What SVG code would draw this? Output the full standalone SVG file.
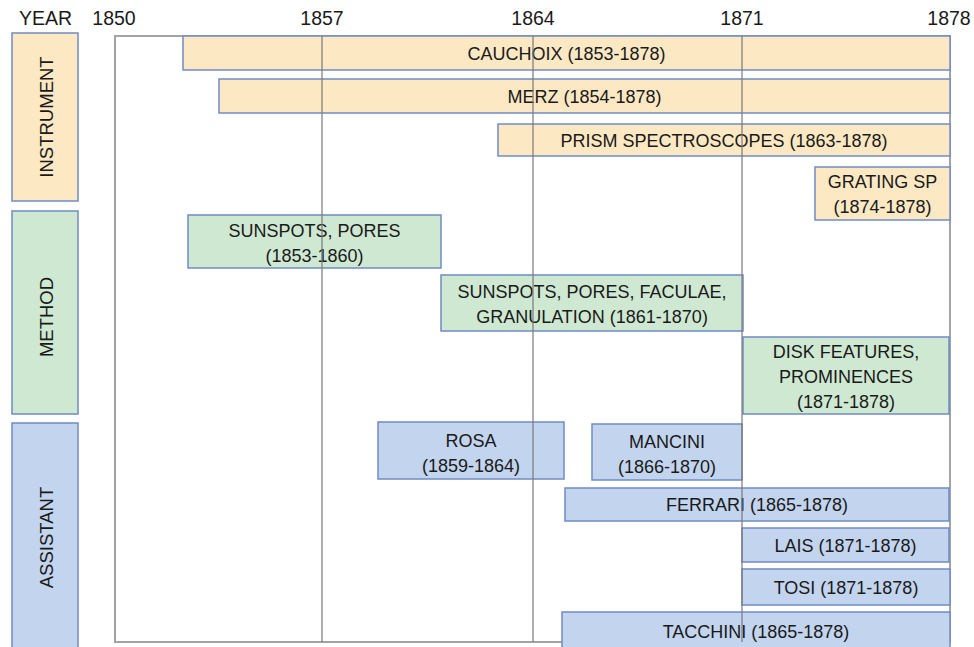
<svg xmlns="http://www.w3.org/2000/svg" width="974" height="647" viewBox="0 0 974 647">
<style>
text{font-family:"Liberation Sans",Arial,sans-serif;fill:#1a1a1a;}
.yr{font-size:19.5px;text-anchor:middle;}
.cat{font-size:18.5px;text-anchor:middle;}
.lb{font-size:18px;text-anchor:middle;}
.ins{fill:#fce8c3;stroke:#6f8cc4;stroke-width:1.5;}
.met{fill:#cfe8d2;stroke:#6f8cc4;stroke-width:1.5;}
.ass{fill:#c2d4ee;stroke:#6f8cc4;stroke-width:1.5;}
.grid{stroke:#7a7a7a;stroke-width:1.5;opacity:0.8;}
.frame{fill:none;stroke:#a3a3a3;stroke-width:2;}
</style>
<rect width="974" height="647" fill="#ffffff"/>
<g id="axis">
<text class="yr" x="45.5" y="25">YEAR</text>
<text class="yr" x="114" y="25">1850</text>
<text class="yr" x="322" y="25">1857</text>
<text class="yr" x="533" y="25">1864</text>
<text class="yr" x="742" y="25">1871</text>
<text class="yr" x="949" y="25">1878</text>
</g>
<g id="frame">
<rect class="frame" x="115" y="36" width="835" height="606"/>
</g>
<g id="categories">
<g id="cat-instrument"><rect class="ins" x="12" y="33" width="66" height="168"/><text class="cat" transform="translate(52.5,117) rotate(-90)">INSTRUMENT</text></g>
<g id="cat-method"><rect class="met" x="12" y="211" width="66" height="203"/><text class="cat" transform="translate(52.5,317) rotate(-90)">METHOD</text></g>
<g id="cat-assistant"><rect class="ass" x="12" y="423" width="66" height="230"/><text class="cat" transform="translate(52.5,537.5) rotate(-90)">ASSISTANT</text></g>
</g>
<g id="bars">
<g id="cauchoix"><rect class="ins" x="183" y="36" width="767" height="34"/><text class="lb" x="566.5" y="59.5">CAUCHOIX (1853-1878)</text></g>
<g id="merz"><rect class="ins" x="219" y="79" width="731" height="34"/><text class="lb" x="584.5" y="102.5">MERZ (1854-1878)</text></g>
<g id="prism"><rect class="ins" x="498" y="124" width="452" height="32"/><text class="lb" x="724" y="146.5">PRISM SPECTROSCOPES (1863-1878)</text></g>
<g id="grating"><rect class="ins" x="815" y="167" width="135" height="53"/><text class="lb" x="882.5" y="188">GRATING SP</text><text class="lb" x="882.5" y="213">(1874-1878)</text></g>
<g id="sunspots1"><rect class="met" x="188" y="215" width="253" height="53"/><text class="lb" x="314.5" y="237">SUNSPOTS, PORES</text><text class="lb" x="314.5" y="262">(1853-1860)</text></g>
<g id="sunspots2"><rect class="met" x="441" y="275" width="302" height="56"/><text class="lb" x="592" y="298">SUNSPOTS, PORES, FACULAE,</text><text class="lb" x="592" y="323">GRANULATION (1861-1870)</text></g>
<g id="disk"><rect class="met" x="743" y="337" width="206" height="77"/><text class="lb" x="846" y="358">DISK FEATURES,</text><text class="lb" x="846" y="383">PROMINENCES</text><text class="lb" x="846" y="408">(1871-1878)</text></g>
<g id="rosa"><rect class="ass" x="378" y="422" width="186" height="57"/><text class="lb" x="471" y="447">ROSA</text><text class="lb" x="471" y="472">(1859-1864)</text></g>
<g id="mancini"><rect class="ass" x="592" y="424" width="150" height="56"/><text class="lb" x="667" y="448">MANCINI</text><text class="lb" x="667" y="473">(1866-1870)</text></g>
<g id="ferrari"><rect class="ass" x="565" y="488" width="384" height="33"/><text class="lb" x="757" y="510.5">FERRARI (1865-1878)</text></g>
<g id="lais"><rect class="ass" x="742" y="528" width="207" height="34"/><text class="lb" x="845.5" y="551.5">LAIS (1871-1878)</text></g>
<g id="tosi"><rect class="ass" x="742" y="569" width="208" height="36"/><text class="lb" x="846" y="593.5">TOSI (1871-1878)</text></g>
<g id="tacchini"><rect class="ass" x="562" y="612" width="388" height="45"/><text class="lb" x="756" y="637.5">TACCHINI (1865-1878)</text></g>
</g>
<g id="connectors">
<line class="grid" x1="322" y1="36" x2="322" y2="642"/>
<line class="grid" x1="533" y1="36" x2="533" y2="642"/>
<line class="grid" x1="742" y1="36" x2="742" y2="642"/>
</g>
</svg>
